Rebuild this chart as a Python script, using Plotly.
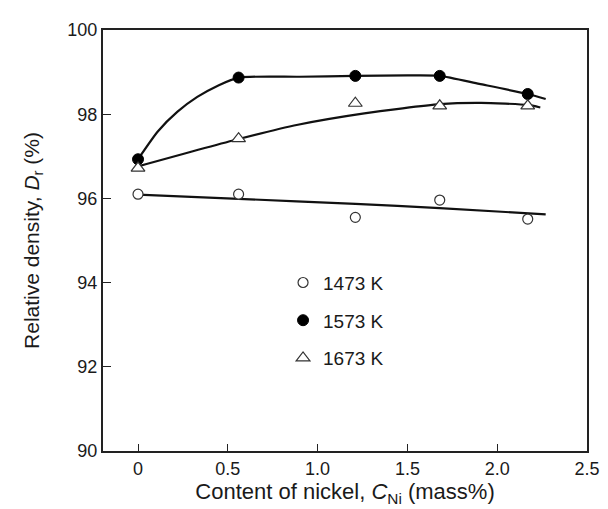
import plotly.graph_objects as go

# Measured data points
nickel = [0.0, 0.56, 1.21, 1.68, 2.17]
d_1473 = [96.10, 96.10, 95.55, 95.96, 95.51]
d_1573 = [96.93, 98.87, 98.91, 98.91, 98.48]
d_1673 = [96.72, 97.42, 98.26, 98.20, 98.20]

# Smooth trend curves
c1473_x = [0.0, 0.56, 1.21, 1.68, 2.27]
c1473_y = [96.09, 95.99, 95.87, 95.77, 95.62]
c1573_x = [0.0, 0.11, 0.22, 0.33, 0.45, 0.56, 0.9, 1.21, 1.5, 1.68, 1.9, 2.17, 2.27]
c1573_y = [96.93, 97.59, 98.06, 98.41, 98.69, 98.87, 98.89, 98.91, 98.92, 98.91, 98.72, 98.48, 98.36]
c1673_x = [0.0, 0.56, 0.89, 1.26, 1.68, 1.91, 2.17, 2.24]
c1673_y = [96.76, 97.41, 97.75, 98.02, 98.24, 98.27, 98.22, 98.16]

labels = ["1473 K", "1573 K", "1673 K"]
x_ticks = [0, 0.5, 1.0, 1.5, 2.0, 2.5]
x_ticktext = ["0", "0.5", "1.0", "1.5", "2.0", "2.5"]
y_ticks = [90, 92, 94, 96, 98, 100]

FONT = "Arial, 'Liberation Sans', sans-serif"
INK = "#1a1a1a"

fig = go.Figure()

for cx, cy in [(c1473_x, c1473_y), (c1573_x, c1573_y), (c1673_x, c1673_y)]:
    fig.add_trace(go.Scatter(x=cx, y=cy, mode="lines",
                             line=dict(color="#111", width=2.2, shape="spline", smoothing=0.6),
                             showlegend=False, hoverinfo="skip"))

styles = [
    dict(symbol="circle", color="white", size=10, line=dict(color="#333", width=1.2)),
    dict(symbol="circle", color="black", size=11, line=dict(color="black", width=1)),
    dict(symbol="triangle-up", color="white", size=12, line=dict(color="#333", width=1.2)),
]
for name, ys, st, g in zip(labels, [d_1473, d_1573, d_1673], styles, ["a", "b", "c"]):
    fig.add_trace(go.Scatter(x=nickel, y=ys, mode="markers", name=name,
                             marker=st, legendgroup=g, showlegend=True))

fig.update_layout(
    width=608, height=509,
    margin=dict(l=95, r=29, t=17.5, b=66),
    paper_bgcolor="white", plot_bgcolor="white",
    font=dict(family=FONT, color=INK, size=17),
    legend=dict(x=0.372, y=0.445, xanchor="left", yanchor="top",
                bgcolor="rgba(0,0,0,0)", font=dict(size=19, family=FONT, color=INK),
                tracegroupgap=10, itemwidth=30),
    xaxis=dict(range=[-0.195, 2.5], tickvals=x_ticks, ticktext=x_ticktext,
               ticks="inside", ticklen=7, tickwidth=1.3, tickcolor="#222",
               showline=True, linecolor="#222", linewidth=2, mirror=True,
               showgrid=False, zeroline=False,
               tickfont=dict(size=18),
               title=dict(text="Content of nickel, <i>C</i><sub>Ni</sub> (mass%)",
                          font=dict(size=22), standoff=6)),
    yaxis=dict(range=[90, 100], tickvals=y_ticks,
               ticks="inside", ticklen=8, tickwidth=1.3, tickcolor="#222",
               showline=True, linecolor="#222", linewidth=2, mirror=True,
               showgrid=False, zeroline=False,
               tickfont=dict(size=18),
               title=dict(text="Relative density, <i>D</i><sub>r</sub> (%)",
                          font=dict(size=21), standoff=22)),
)

fig.write_html("out.html")
